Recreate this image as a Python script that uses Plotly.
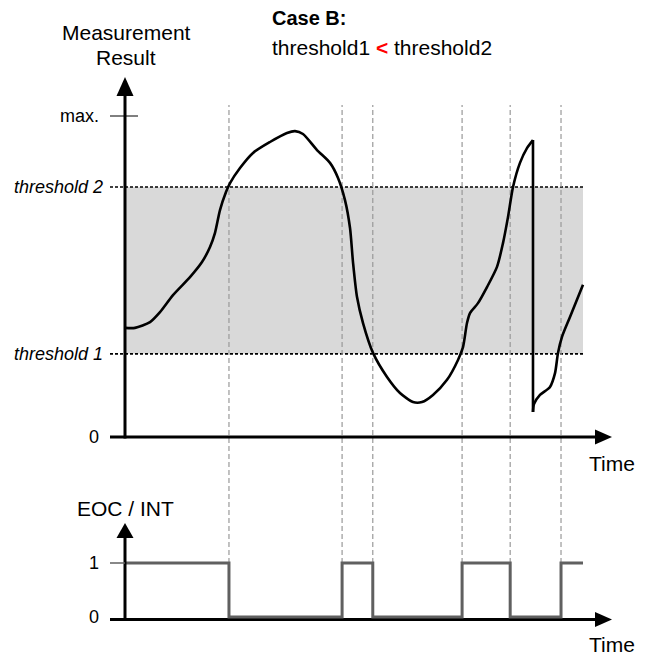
import plotly.graph_objects as go

# ---------------- data ----------------
time = [0, 2.18, 5.46, 7.64, 10.48, 14.19, 16.81, 18.56, 19.65, 20.74, 22.05, 22.93,
        25.11, 27.95, 31.66, 35.37, 37.12, 38.86, 41.92, 44.76, 46.51, 48.03, 49.13,
        49.78, 50.66, 51.97, 54.15, 57.21, 60.04, 62.88, 64.85, 67.25, 70.31, 72.71,
        73.80, 74.67, 75.33, 77.07, 79.04, 81.22, 82.53, 83.62, 84.72, 86.24, 87.77,
        89.08, 89.08, 89.30, 90.61, 92.79, 93.89, 94.54, 95.41, 97.16, 100.0]
measurement = [34.0, 34.0, 35.8, 38.9, 44.2, 49.8, 54.5, 59.2, 63.6, 70.7, 76.3, 79.1,
               83.8, 88.5, 91.9, 94.7, 95.3, 94.4, 89.4, 85.4, 80.7, 73.8, 65.1,
               54.5, 43.6, 35.5, 26.2, 18.7, 13.7, 10.9, 10.9, 13.1, 17.8, 24.0,
               28.0, 35.5, 38.6, 41.7, 46.7, 53.0, 60.4, 68.5, 77.9, 85.4, 90.0,
               92.5, 7.8, 10.3, 13.1, 15.6, 19.9, 26.2, 31.2, 37.4, 47.4]
reset_index = 45     # the measurement drops abruptly after this sample

event_times = [22.7, 47.4, 54.1, 73.6, 84.1, 95.2]
eoc_time = [0, 22.7, 47.4, 54.1, 73.6, 84.1, 95.2, 100]
eoc_state = [1, 0, 1, 0, 1, 0, 1, 1]

threshold1 = 25.9
threshold2 = 77.9
max_value = 100
time_end = 100

upper_labels = ["0", "threshold 1", "threshold 2", "max."]
upper_label_values = [0, threshold1, threshold2, max_value]
lower_labels = ["0", "1"]
lower_label_values = [0, 1]

# ---------------- scales (pixels per unit) ----------------
W, H = 648, 657      # browser window
BODY = 8             # default page margin in front of the figure
PX_T = 4.58          # px per time unit
X0_PX = 125          # window pixel of t = 0
PX_V = 3.21          # px per measurement unit
Y0_PX = 437          # window pixel of measurement 0
PX_S = 54            # px per EOC state unit
S0_PX = 617          # window pixel of EOC state 0


def tx(px):   # pixel offset -> time units
    return px / PX_T


def vy(px):   # pixel offset -> measurement units
    return px / PX_V


def sy(px):   # pixel offset -> state units
    return px / PX_S


FONT = "Liberation Sans, Arial, sans-serif"
BLACK = "#000000"
GRAY = "#606060"

fig = go.Figure()

curve_line = dict(color=BLACK, width=2.6)
segments = [
    (0, reset_index + 1, "spline"),
    (reset_index, reset_index + 2, "linear"),
    (reset_index + 1, len(time), "spline"),
]
for a, b, shape in segments:
    fig.add_trace(go.Scatter(x=time[a:b], y=measurement[a:b], mode="lines",
                             line=dict(**curve_line, shape=shape, smoothing=0.7),
                             yaxis="y", hoverinfo="skip", showlegend=False))
fig.add_trace(go.Scatter(x=eoc_time, y=eoc_state, mode="lines", line_shape="hv",
                         line=dict(color=GRAY, width=3), yaxis="y2",
                         hoverinfo="skip", showlegend=False))

shapes = []
# threshold band
shapes.append(dict(type="rect", xref="x", yref="y", x0=0, x1=time_end,
                   y0=threshold1, y1=threshold2, fillcolor="#d9d9d9",
                   line=dict(width=0), layer="below"))
# threshold dotted lines
for v in (threshold1, threshold2):
    shapes.append(dict(type="line", xref="x", yref="y", x0=tx(-15), x1=time_end,
                       y0=v, y1=v, line=dict(color=BLACK, width=1.6, dash="3px,2px"),
                       layer="below"))
# max tick
shapes.append(dict(type="line", xref="x", yref="y", x0=tx(-15), x1=tx(13),
                   y0=max_value, y1=max_value, line=dict(color=BLACK, width=1)))
# dashed vertical event lines
for t in event_times:
    shapes.append(dict(type="line", xref="x", yref="y2", x0=t, x1=t,
                       y0=1, y1=sy(S0_PX - 105),
                       line=dict(color="#999999", width=1.2, dash="5px,3px"),
                       layer="below"))
# upper axes
shapes.append(dict(type="line", xref="x", yref="y", x0=0, x1=0, y0=vy(-1.5),
                   y1=vy(Y0_PX - 95), line=dict(color=BLACK, width=3)))
shapes.append(dict(type="path", xref="x", yref="y",
                   path=f"M {tx(-8.5)},{vy(Y0_PX-96)} L {tx(8.5)},{vy(Y0_PX-96)} L 0,{vy(Y0_PX-77)} Z",
                   fillcolor=BLACK, line=dict(width=0)))
shapes.append(dict(type="line", xref="x", yref="y", x0=tx(-15), x1=tx(596 - X0_PX),
                   y0=0, y1=0, line=dict(color=BLACK, width=3)))
shapes.append(dict(type="path", xref="x", yref="y",
                   path=f"M {tx(595-X0_PX)},{vy(7.5)} L {tx(595-X0_PX)},{vy(-7.5)} L {tx(612-X0_PX)},0 Z",
                   fillcolor=BLACK, line=dict(width=0)))
# lower axes
sa = sy(-2.4)
shapes.append(dict(type="line", xref="x", yref="y2", x0=0, x1=0, y0=sa,
                   y1=sy(S0_PX - 537), line=dict(color=BLACK, width=3)))
shapes.append(dict(type="path", xref="x", yref="y2",
                   path=f"M {tx(-8.5)},{sy(S0_PX-538)} L {tx(8.5)},{sy(S0_PX-538)} L 0,{sy(S0_PX-523)} Z",
                   fillcolor=BLACK, line=dict(width=0)))
shapes.append(dict(type="line", xref="x", yref="y2", x0=tx(-15), x1=tx(596 - X0_PX),
                   y0=sa, y1=sa, line=dict(color=BLACK, width=3), layer="below"))
shapes.append(dict(type="path", xref="x", yref="y2",
                   path=f"M {tx(595-X0_PX)},{sa+sy(7.5)} L {tx(595-X0_PX)},{sa-sy(7.5)} L {tx(612-X0_PX)},{sa} Z",
                   fillcolor=BLACK, line=dict(width=0)))
# level-1 tick
shapes.append(dict(type="line", xref="x", yref="y2", x0=tx(-15), x1=0,
                   y0=1, y1=1, line=dict(color=GRAY, width=1.5)))

ann = []
for lab, v in zip(upper_labels, upper_label_values):
    italic = lab.startswith("threshold")
    text = f"<i>{lab}</i>" if italic else lab
    ann.append(dict(x=tx(-20 if italic else -24), y=v, xref="x", yref="y", text=text,
                    showarrow=False, xanchor="right", yanchor="middle",
                    font=dict(family=FONT, size=18, color=BLACK)))
for lab, v in zip(lower_labels, lower_label_values):
    ann.append(dict(x=tx(-24), y=v, xref="x", yref="y2", text=lab, showarrow=False,
                    xanchor="right", yanchor="middle",
                    font=dict(family=FONT, size=18, color=BLACK)))
ann.append(dict(x=tx(1), y=vy(Y0_PX - 32), xref="x", yref="y", text="Measurement",
                showarrow=False, xanchor="center", yanchor="middle",
                font=dict(family=FONT, size=21, color=BLACK)))
ann.append(dict(x=tx(1), y=vy(Y0_PX - 57), xref="x", yref="y", text="Result",
                showarrow=False, xanchor="center", yanchor="middle",
                font=dict(family=FONT, size=21, color=BLACK)))
ann.append(dict(x=tx(270 - X0_PX), y=vy(Y0_PX - 18), xref="x", yref="y",
                text="<b>Case B:</b>", showarrow=False, xanchor="left",
                yanchor="middle", font=dict(family=FONT, size=20, color=BLACK)))
ann.append(dict(x=tx(270 - X0_PX), y=vy(Y0_PX - 47), xref="x", yref="y",
                text='threshold1 <span style="color:#ff0000"><b>&lt;</b></span> threshold2',
                showarrow=False, xanchor="left", yanchor="middle",
                font=dict(family=FONT, size=21, color=BLACK)))
ann.append(dict(x=tx(612 - X0_PX), y=vy(Y0_PX - 463), xref="x", yref="y", text="Time",
                showarrow=False, xanchor="center", yanchor="middle",
                font=dict(family=FONT, size=21, color=BLACK)))
ann.append(dict(x=0, y=sy(S0_PX - 508), xref="x", yref="y2", text="EOC / INT",
                showarrow=False, xanchor="center", yanchor="middle",
                font=dict(family=FONT, size=21, color=BLACK)))
ann.append(dict(x=tx(612 - X0_PX), y=sy(S0_PX - 644), xref="x", yref="y2", text="Time",
                showarrow=False, xanchor="center", yanchor="middle",
                font=dict(family=FONT, size=21, color=BLACK)))

fig.update_layout(
    width=W - BODY, height=H - BODY, autosize=False,
    margin=dict(l=0, r=0, t=0, b=0),
    paper_bgcolor="white", plot_bgcolor="white",
    showlegend=False,
    xaxis=dict(range=[tx(BODY - X0_PX), tx(W - X0_PX)], visible=False, fixedrange=True),
    yaxis=dict(range=[vy(Y0_PX - H), vy(Y0_PX - BODY)], visible=False, fixedrange=True),
    yaxis2=dict(range=[sy(S0_PX - H), sy(S0_PX - BODY)], visible=False, overlaying="y",
                fixedrange=True),
    shapes=shapes, annotations=ann,
)

fig.write_html("out.html")
